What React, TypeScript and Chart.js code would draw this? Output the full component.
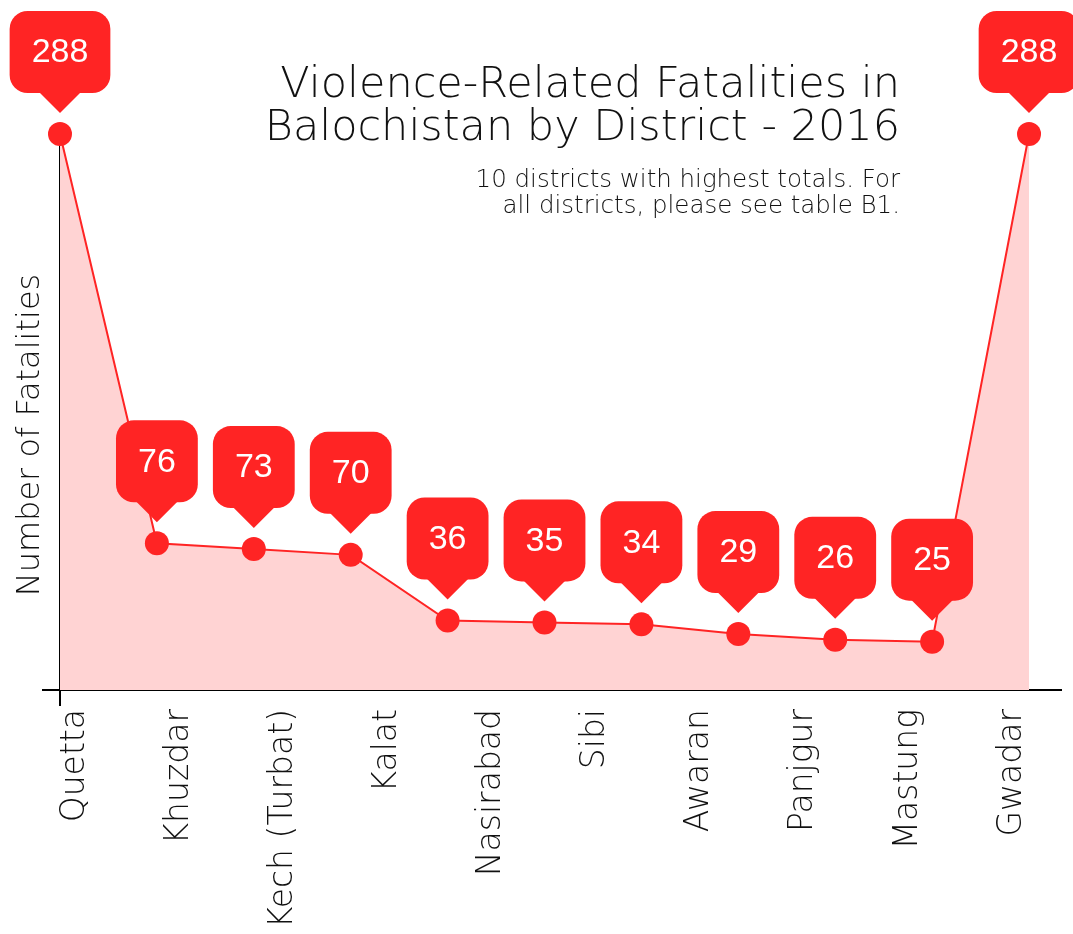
import React, { useEffect, useRef } from 'react';
import { Chart, registerables } from 'chart.js';

Chart.register(...registerables);

// ---- data ----
const DISTRICTS: string[] = ['Quetta', 'Khuzdar', 'Kech (Turbat)', 'Kalat', 'Nasirabad', 'Sibi', 'Awaran', 'Panjgur', 'Mastung', 'Gwadar'];
const FATALITIES: number[] = [288, 76, 73, 70, 36, 35, 34, 29, 26, 25, 288];
const TITLE_LINES: string[] = ['Violence-Related Fatalities in', 'Balochistan by District - 2016'];
const SUBTITLE_LINES: string[] = ['10 districts with highest totals. For', 'all districts, please see table B1.'];
const Y_TITLE = 'Number of Fatalities';

const RED = '#ff2424';
const FILL = '#ffd3d3';
const TEXT = '#111111';
const FONT_FAMILY = '"DejaVu Sans", Lato, sans-serif';

const calloutPlugin = {
  id: 'callouts',
  afterDatasetsDraw(chart: any) {
    const meta = chart.getDatasetMeta(0);
    const ctx = chart.ctx as CanvasRenderingContext2D;
    ctx.save();
    ctx.font = '34px "Liberation Sans", Arial, sans-serif';
    meta.data.forEach((pt: any, i: number) => {
      const text = String(FATALITIES[i]);
      const tw = ctx.measureText(text).width;
      const w = tw + 44;
      const h = 82;
      const x = pt.x;
      const bottom = pt.y - 41;
      const top = bottom - h;
      ctx.fillStyle = RED;
      ctx.beginPath();
      (ctx as any).roundRect(x - w / 2, top, w, h, 18);
      ctx.fill();
      ctx.beginPath();
      ctx.moveTo(x - 21, bottom - 1);
      ctx.lineTo(x + 21, bottom - 1);
      ctx.lineTo(x, bottom + 20);
      ctx.closePath();
      ctx.fill();
      ctx.fillStyle = '#ffffff';
      ctx.textAlign = 'center';
      ctx.textBaseline = 'middle';
      ctx.fillText(text, x, top + h / 2 + 1);
    });
    ctx.restore();
  },
};

const titlePlugin = {
  id: 'titles',
  afterDraw(chart: any) {
    const ctx = chart.ctx as CanvasRenderingContext2D;
    ctx.save();
    ctx.fillStyle = TEXT;
    ctx.textAlign = 'right';
    ctx.textBaseline = 'alphabetic';
    ctx.font = `200 43px ${FONT_FAMILY}`;
    ctx.fillText(TITLE_LINES[0], 900, 97);
    ctx.fillText(TITLE_LINES[1], 900, 140);
    ctx.font = `200 24.5px ${FONT_FAMILY}`;
    ctx.fillText(SUBTITLE_LINES[0], 900, 187);
    ctx.fillText(SUBTITLE_LINES[1], 900, 213);
    ctx.translate(31, 435);
    ctx.rotate(-Math.PI / 2);
    ctx.textAlign = 'center';
    ctx.textBaseline = 'middle';
    ctx.font = `200 32px ${FONT_FAMILY}`;
    ctx.fillText(Y_TITLE, 0, 0);
    ctx.restore();
  },
};

export default function App() {
  const ref = useRef<HTMLCanvasElement | null>(null);

  useEffect(() => {
    if (!ref.current) return;
    const chart = new Chart(ref.current, {
      type: 'line',
      data: {
        datasets: [
          {
            data: FATALITIES.map((v, i) => ({ x: i, y: v })),
            borderColor: RED,
            borderWidth: 2,
            backgroundColor: FILL,
            fill: 'origin',
            pointRadius: 12,
            pointHoverRadius: 12,
            pointBackgroundColor: RED,
            pointBorderWidth: 0,
            tension: 0,
            clip: false as any,
          },
        ],
      },
      options: {
        responsive: false,
        animation: false,
        events: [],
        layout: { padding: { top: 134, right: 11, left: 0, bottom: 0 } },
        plugins: {
          legend: { display: false },
          tooltip: { enabled: false },
          title: { display: false },
        },
        scales: {
          x: {
            type: 'linear',
            position: 'bottom',
            weight: 0,
            min: 0,
            max: 10.33,
            border: { display: true, color: '#000', width: 2 },
            grid: { display: true, drawOnChartArea: false, drawTicks: true, tickLength: 16, color: '#000', lineWidth: 2 },
            ticks: { display: false },
            afterBuildTicks: (scale: any) => {
              scale.ticks = [{ value: 0 }];
            },
          },
          xl: {
            type: 'linear',
            position: 'bottom',
            weight: 1,
            min: -0.144,
            max: 9.47,
            border: { display: false },
            grid: { display: false },
            ticks: {
              autoSkip: false,
              maxRotation: 90,
              minRotation: 90,
              padding: -5,
              color: TEXT,
              font: { family: FONT_FAMILY, size: 33, weight: 200 as any },
              callback: (v: any) => DISTRICTS[Number(v)] ?? '',
            },
            afterBuildTicks: (scale: any) => {
              scale.ticks = DISTRICTS.map((_, i) => ({ value: i }));
            },
            afterFit: (scale: any) => {
              scale.height = 228;
            },
          },
          y: {
            type: 'linear',
            position: 'left',
            min: 0,
            max: 288,
            z: 1,
            border: { display: true, color: '#000', width: 2 },
            grid: { display: true, drawOnChartArea: false, drawTicks: true, tickLength: 18, color: '#000', lineWidth: 2 },
            ticks: { display: false },
            afterBuildTicks: (scale: any) => {
              scale.ticks = [{ value: 0 }];
            },
            afterFit: (scale: any) => {
              scale.width = 60;
            },
          },
        },
      } as any,
      plugins: [calloutPlugin, titlePlugin],
    });
    return () => chart.destroy();
  }, []);

  return (
    <div style={{ position: 'absolute', left: 0, top: 0, width: 1073, height: 934, background: '#fff' }}>
      <canvas ref={ref} width={1073} height={934} style={{ display: 'block' }} />
    </div>
  );
}
